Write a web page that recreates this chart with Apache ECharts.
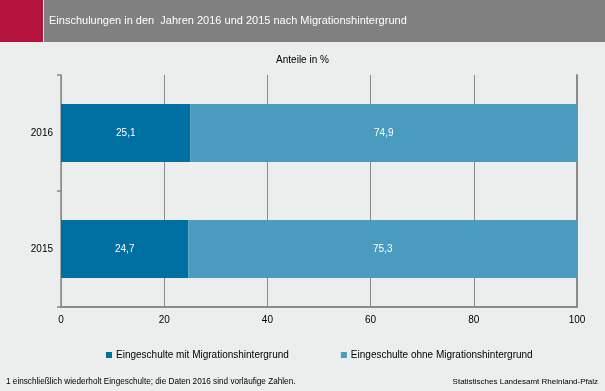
<!DOCTYPE html>
<html><head><meta charset="utf-8">
<script src="https://cdn.jsdelivr.net/npm/echarts@6/dist/echarts.min.js"></script>
<style>html,body{margin:0;padding:0;background:#ECEDED;}#c{width:605px;height:391px;}</style>
</head><body><div id="c"></div>
<script>
const categories = ['2015', '2016'];
const seriesNames = ['Eingeschulte mit Migrationshintergrund', 'Eingeschulte ohne Migrationshintergrund'];
const mitMigration = [24.7, 25.1];
const ohneMigration = [75.3, 74.9];
const xTicks = [0, 20, 40, 60, 80, 100];

const FONT = 'Liberation Sans, Arial, sans-serif';
const chart = echarts.init(document.getElementById('c'));
const fmt = p => String(p.value).replace('.', ',');
chart.setOption({
  backgroundColor: '#ECEDED',
  animation: false,
  textStyle: { fontFamily: FONT },
  title: {
    text: 'Einschulungen in den  Jahren 2016 und 2015 nach Migrationshintergrund',
    left: 44, top: 10,
    textStyle: { color: '#ffffff', fontSize: 11, fontWeight: 'normal', fontFamily: FONT }
  },
  graphic: [
    { type: 'rect', z: -1, shape: { x: 0, y: 0, width: 43, height: 42 }, style: { fill: '#B5123E' } },
    { type: 'rect', z: -1, shape: { x: 44, y: 0, width: 561, height: 42 }, style: { fill: '#808080' } },
    { type: 'text', left: 'center', top: 55, style: { text: 'Anteile in %', fill: '#000', font: '10px ' + FONT } },
    { type: 'text', left: 6, top: 378, style: { text: '1 einschließlich wiederholt Eingeschulte; die Daten 2016 sind vorläufige Zahlen.', fill: '#000', font: '8.2px ' + FONT } },
    { type: 'text', right: 7, top: 378, style: { text: 'Statistisches Landesamt Rheinland-Pfalz', fill: '#000', font: '8px ' + FONT } }
  ],
  legend: {
    data: seriesNames,
    left: 101, top: 345,
    itemWidth: 6, itemHeight: 6, itemGap: 52,
    icon: 'rect',
    textStyle: { fontSize: 10, color: '#000', fontFamily: FONT, padding: [0, 0, 0, -1] }
  },
  grid: { left: 61, right: 28, top: 75, bottom: 84 },
  xAxis: {
    type: 'value', min: xTicks[0], max: xTicks[xTicks.length - 1], interval: 20,
    axisLine: { show: true, lineStyle: { color: '#8a8a8a', width: 2 } },
    axisTick: { show: false },
    axisLabel: { color: '#000', fontSize: 10, margin: 8, fontFamily: FONT },
    splitLine: { show: true, lineStyle: { color: '#8a8a8a', width: 1 } }
  },
  yAxis: [{
    type: 'category', data: categories,
    axisLine: { show: true, lineStyle: { color: '#8a8a8a', width: 1.5 } },
    axisTick: { show: true, length: 4, lineStyle: { color: '#8a8a8a', width: 1.5 } },
    axisLabel: { color: '#000', fontSize: 10, margin: 8, fontFamily: FONT }
  }, {
    type: 'category', data: categories, position: 'right',
    axisLine: { show: true, lineStyle: { color: '#8a8a8a', width: 2 } },
    axisTick: { show: false }, axisLabel: { show: false }
  }],
  series: [
    {
      name: seriesNames[0], type: 'bar', stack: 'a', data: mitMigration, barWidth: 58,
      itemStyle: { color: '#0070A2' },
      label: { show: true, position: 'inside', color: '#fff', fontSize: 10, formatter: fmt, fontFamily: FONT }
    },
    {
      name: seriesNames[1], type: 'bar', stack: 'a', data: ohneMigration, barWidth: 58,
      itemStyle: { color: '#4A9CBF' },
      label: { show: true, position: 'inside', color: '#fff', fontSize: 10, formatter: fmt, fontFamily: FONT }
    }
  ]
});
</script></body></html>
